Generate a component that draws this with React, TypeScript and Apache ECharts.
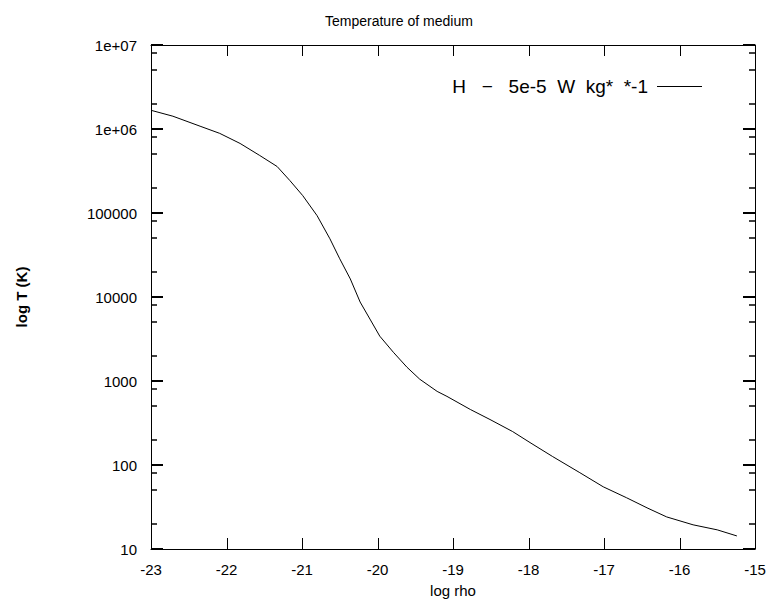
import { useEffect, useRef } from "react";
import * as echarts from "echarts";

const chartTitle = "Temperature of medium";
const xName = "log rho";
const yName = "log T (K)";
const seriesName = "H\u00A0\u00A0\u00A0−\u00A0\u00A0\u00A05e-5\u00A0\u00A0W\u00A0\u00A0kg*\u00A0\u00A0*-1";

const logRho = [
  -23.0, -22.71, -22.35, -22.09, -21.82, -21.56, -21.33, -21.16, -20.99, -20.8,
  -20.63, -20.5, -20.36, -20.23, -20.1, -19.97, -19.79, -19.61, -19.44, -19.21,
  -19.08, -18.77, -18.51, -18.21, -17.98, -17.68, -17.32, -17.01, -16.7, -16.43,
  -16.17, -15.82, -15.5, -15.24,
];
const temperature = [
  1.67e6, 1.42e6, 1.08e6, 8.87e5, 6.73e5, 4.84e5, 3.58e5, 2.43e5, 1.61e5, 9.29e4,
  4.93e4, 2.85e4, 1.64e4, 8.71e3, 5.46e3, 3.42e3, 2.2e3, 1.46e3, 1.05e3, 752,
  656, 458, 348, 250, 185, 126, 81, 55, 40.7, 30.9,
  24.1, 19.4, 16.9, 14.3,
];

const xMin = -23;
const xMax = -15;
const xTickValues = [-23, -22, -21, -20, -19, -18, -17, -16, -15];
const yTickValues = [10, 100, 1000, 10000, 100000, 1000000, 10000000];
const yTickLabels = ["10", "100", "1000", "10000", "100000", "1e+06", "1e+07"];
const yMinorTicks = [
  20, 50, 80, 200, 500, 800, 2000, 5000, 8000, 20000, 50000, 80000,
  200000, 500000, 800000, 2000000, 5000000, 8000000,
];

const W = 775;
const H = 608;

export default function App() {
  const ref = useRef<HTMLDivElement>(null);
  useEffect(() => {
    const chart = echarts.init(ref.current!, null, { renderer: "svg" });
    const font = "Liberation Sans, Arial, sans-serif";
    const black = "#000";
    const yMin = yTickValues[0];
    const yMax = yTickValues[yTickValues.length - 1];
    const solid = { show: true, lineStyle: { color: black, width: 1 } };

    const logY = (position: string, extra: any) => ({
      type: "log",
      logBase: 10,
      min: yMin,
      max: yMax,
      position,
      splitLine: { show: false },
      axisLabel: { show: false },
      axisLine: solid,
      axisTick: { show: false },
      ...extra,
    });
    const valX = (position: string, extra: any) => ({
      type: "value",
      min: xMin,
      max: xMax,
      interval: 1,
      position,
      splitLine: { show: false },
      axisLabel: { show: false },
      axisLine: solid,
      axisTick: { show: false },
      ...extra,
    });

    const option = {
      animation: false,
      backgroundColor: "#fff",
      title: {
        text: chartTitle,
        left: 320,
        top: 9,
        textStyle: { color: black, fontFamily: font, fontSize: 14, fontWeight: "normal" },
      },
      legend: {
        data: [seriesName],
        align: "right",
        right: 68,
        top: 72,
        icon: "rect",
        itemWidth: 45,
        itemHeight: 1,
        itemGap: 0,
        textStyle: { color: black, fontFamily: font, fontSize: 19, padding: [0, 4, 0, 0] },
      },
      grid: { left: 151, right: 20, top: 45, bottom: 59, containLabel: false },
      xAxis: [
        valX("bottom", {
          axisLabel: { show: true, color: black, fontFamily: font, fontSize: 15, margin: 13 },
          name: xName,
          nameLocation: "middle",
          nameGap: 34,
          nameTextStyle: { color: black, fontFamily: font, fontSize: 15 },
        }),
        valX("top", {}),
      ],
      yAxis: [
        logY("left", {
          axisLabel: {
            show: true,
            color: black,
            fontFamily: font,
            fontSize: 15,
            margin: 14,
            formatter: (v: number) => {
              const i = yTickValues.findIndex((t) => Math.abs(t - v) / t < 1e-6);
              return i >= 0 ? yTickLabels[i] : "";
            },
          },
          name: yName,
          nameLocation: "middle",
          nameGap: 122,
          nameRotate: 90,
          nameTextStyle: { color: black, fontFamily: font, fontSize: 15, fontWeight: "bold" },
        }),
        logY("right", {}),
      ],
      series: [
        {
          name: seriesName,
          type: "line",
          xAxisIndex: 0,
          yAxisIndex: 0,
          symbol: "none",
          showSymbol: false,
          smooth: false,
          lineStyle: { color: black, width: 1 },
          itemStyle: { color: black },
          data: logRho.map((x, i) => [x, temperature[i]]),
        },
      ],
    };
    chart.setOption(option as any);

    // Inward tick marks, positioned through the chart's own axes.
    const MAJOR = 12;
    const MINOR = 6;
    const XT = 11;
    const toPx = (x: number, y: number) =>
      chart.convertToPixel({ gridIndex: 0 } as any, [x, y]) as any as number[];
    const elements: any[] = [];
    const addTick = (pts: number[][], width: number) => {
      elements.push({
        type: "polyline",
        silent: true,
        z: 100,
        shape: { points: pts },
        style: { stroke: black, lineWidth: width, fill: "none" },
      });
    };
    const hTick = (x: number, y: number, dir: number, len: number, width: number) => {
      const p = toPx(x, y);
      const yy = Math.round(p[1]);
      addTick([[p[0], yy], [p[0] + dir * len, yy]], width);
    };
    const vTick = (x: number, y: number, dir: number, len: number) => {
      const p = toPx(x, y);
      const xx = Math.round(p[0]) + 0.5;
      addTick([[xx, p[1]], [xx, p[1] + dir * len]], 1);
    };
    yTickValues.forEach((v) => {
      hTick(xMin, v, 1, MAJOR, 2);
      hTick(xMax, v, -1, MAJOR, 2);
    });
    yMinorTicks.forEach((v) => {
      hTick(xMin, v, 1, MINOR, 1.5);
      hTick(xMax, v, -1, MINOR, 1.5);
    });
    xTickValues.forEach((v) => {
      vTick(v, yMin, -1, XT);
      vTick(v, yMax, 1, XT);
    });
    chart.setOption({ graphic: elements } as any);

    return () => chart.dispose();
  }, []);
  return (
    <div
      ref={ref}
      style={{ position: "absolute", left: 0, top: 0, width: W, height: H }}
    />
  );
}
